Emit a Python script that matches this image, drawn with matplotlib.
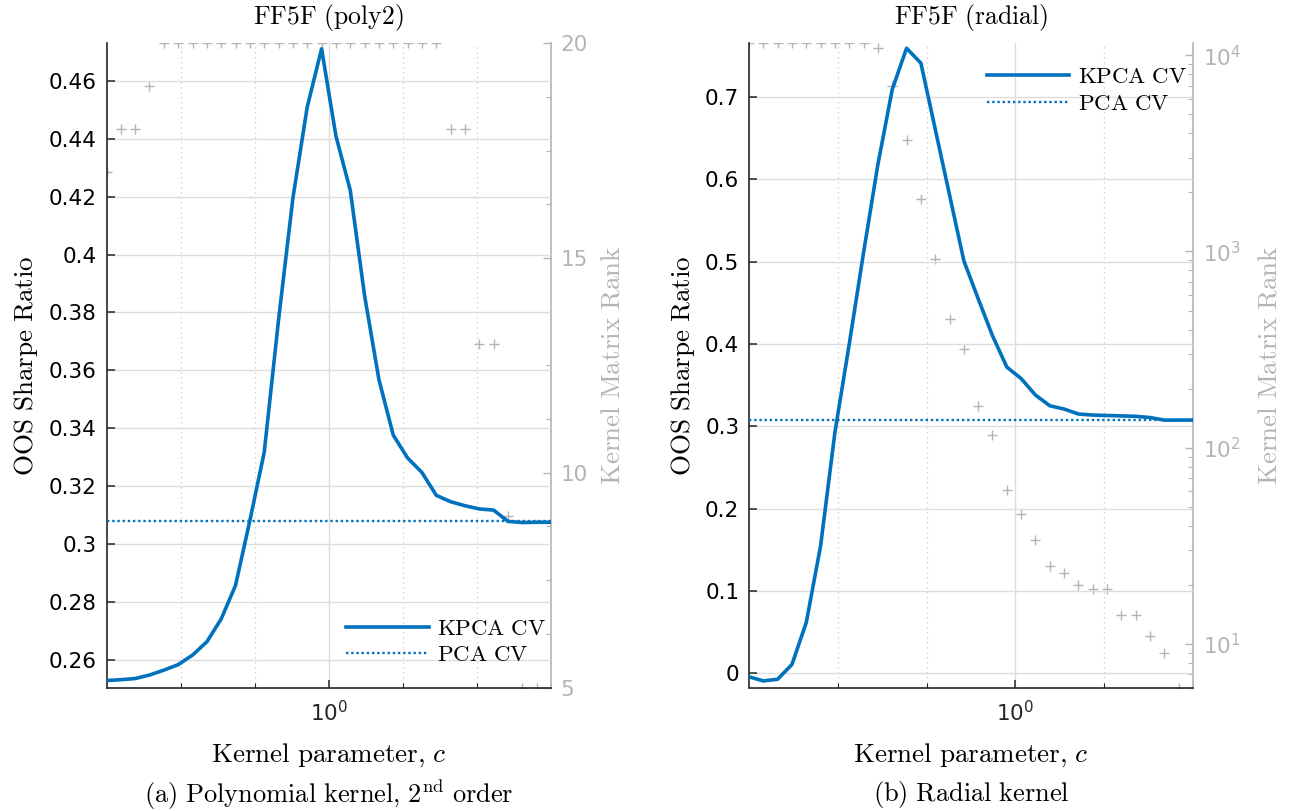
import numpy as np
import matplotlib
matplotlib.use("Agg")
import matplotlib.pyplot as plt
from matplotlib.ticker import FixedLocator, FuncFormatter, NullFormatter, LogLocator, AutoMinorLocator

plt.rcParams['font.family'] = ['DejaVu Sans']
plt.rcParams['mathtext.fontset'] = 'cm'

# ---------------- data ----------------
c_poly = [0.1250, 0.1430, 0.1635, 0.1869, 0.2138, 0.2445, 0.2796, 0.3197,
          0.3656, 0.4181, 0.4781, 0.5468, 0.6253, 0.7150, 0.8177, 0.9351,
          1.0693, 1.2229, 1.3984, 1.5992, 1.8288, 2.0913, 2.3916, 2.7349,
          3.1276, 3.5766, 4.0901, 4.6773, 5.3488, 6.1167, 6.9948, 8.0000]
sr_kpca_poly = [0.2528, 0.2531, 0.2535, 0.2547, 0.2564, 0.2583, 0.2616, 0.2662,
                0.2741, 0.2857, 0.3081, 0.3317, 0.3775, 0.4195, 0.4510, 0.4711,
                0.4410, 0.4222, 0.3858, 0.3568, 0.3376, 0.3297, 0.3247, 0.3168,
                0.3146, 0.3132, 0.3121, 0.3117, 0.3078, 0.3074, 0.3075, 0.3075]
sr_pca_poly = 0.3078
rank_poly = [17, 18, 18, 19, 20, 20, 20, 20, 20, 20, 20, 20, 20, 20, 20, 20,
             20, 20, 20, 20, 20, 20, 20, 20, 18, 18, 13, 13, 9, 5, 5, 5]

c_rbf = [0.1250, 0.1398, 0.1563, 0.1748, 0.1955, 0.2186, 0.2445, 0.2734,
         0.3057, 0.3419, 0.3824, 0.4276, 0.4782, 0.5347, 0.5980, 0.6687,
         0.7478, 0.8363, 0.9352, 1.0459, 1.1696, 1.3079, 1.4627, 1.6357,
         1.8292, 2.0456, 2.2875, 2.5581, 2.8607, 3.1991, 3.5776, 4.0000]
sr_kpca_rbf = [-0.004, -0.009, -0.007, 0.011, 0.062, 0.155, 0.293, 0.400,
               0.511, 0.618, 0.709, 0.759, 0.741, 0.661, 0.581, 0.501,
               0.455, 0.410, 0.372, 0.358, 0.338, 0.325, 0.321, 0.315,
               0.3137, 0.3132, 0.3127, 0.3122, 0.3107, 0.3076, 0.3076, 0.3076]
sr_pca_rbf = 0.308
rank_rbf = [11500, 11500, 11500, 11500, 11500, 11500, 11500, 11500, 11500,
            10860, 7000, 3700, 1850, 914, 452, 320, 163, 116, 61, 46, 34, 25,
            23, 20, 19, 19, 14, 14, 11, 9, 6, 6]

titles = ['FF5F\\ (poly2)', 'FF5F\\ (radial)']
captions = ['(a)\\ Polynomial\\ kernel{,}\\ 2^{nd}\\ order', '(b)\\ Radial\\ kernel']

# ---------------- style ----------------
BLUE = '#0072BD'
GRAY = '#b4b4b4'
GRIDC = '#dddddd'
W, H = 1290, 811
fig = plt.figure(figsize=(W / 100, H / 100), dpi=100)

def frac(x0, x1, ytop, ybot):
    return [x0 / W, (H - ybot) / H, (x1 - x0) / W, (ybot - ytop) / H]

panels = [
    dict(rect=frac(106.5, 551, 43.3, 687.5), c=c_poly, sr=sr_kpca_poly, pca=sr_pca_poly,
         rank=rank_poly, xlim=(0.125, 8.0), ylim=(0.2504, 0.473), minor=[0.25, 0.5, 2, 4],
         yticks=[0.26, 0.28, 0.30, 0.32, 0.34, 0.36, 0.38, 0.40, 0.42, 0.44, 0.46],
         rlog=False, rlim=(5, 20), leg=(0.539, 0.110), title=titles[0], cap=captions[0]),
    dict(rect=frac(749, 1193, 43.3, 687.5), c=c_rbf, sr=sr_kpca_rbf, pca=sr_pca_rbf,
         rank=rank_rbf, xlim=(0.125, 4.0), ylim=(-0.017, 0.765), minor=[0.25, 0.5, 2],
         yticks=[0, 0.1, 0.2, 0.3, 0.4, 0.5, 0.6, 0.7],
         rlog=True, rlim=(6, 11500), leg=(0.536, 0.966), title=titles[1], cap=captions[1]),
]

TICKFS = 15.5
LABFS = 19.5
TITFS = 18.5
LEGFS = 16.5
CAPFS = 19

for p in panels:
    ax = fig.add_axes(p['rect'])
    axr = ax.twinx()
    ax.set_zorder(axr.get_zorder() + 1)
    ax.patch.set_visible(False)

    # rank markers (right axis)
    axr.plot(p['c'], p['rank'], linestyle='none', marker='+', color=GRAY,
             markersize=7, markeredgewidth=1.0)
    if p['rlog']:
        axr.set_yscale('log')
        axr.yaxis.set_major_locator(LogLocator(base=10, numticks=10))
        axr.yaxis.set_minor_locator(LogLocator(base=10, subs=np.arange(2, 10), numticks=20))
        axr.yaxis.set_minor_formatter(NullFormatter())
    else:
        axr.yaxis.set_major_locator(FixedLocator([5, 10, 15, 20]))
        axr.yaxis.set_minor_locator(AutoMinorLocator(4))
    axr.set_ylim(*p['rlim'])
    axr.set_ylabel('$\\mathrm{Kernel\\ Matrix\\ Rank}$', color=GRAY, fontsize=LABFS,
                   labelpad=11 if p['rlog'] else 8)

    # Sharpe lines
    ax.plot(p['c'], p['sr'], color=BLUE, lw=2.6, label='$\\mathrm{KPCA\\ CV}$', zorder=3)
    ax.axhline(p['pca'], color=BLUE, lw=1.7, ls=(0, (1, 1.2)), label='$\\mathrm{PCA\\ CV}$', zorder=3)

    ax.set_xscale('log')
    ax.set_xlim(*p['xlim'])
    ax.set_ylim(*p['ylim'])
    ax.xaxis.set_major_locator(FixedLocator([1.0]))
    ax.xaxis.set_major_formatter(FuncFormatter(lambda v, pos: '$\\mathregular{10^{0}}$'))
    ax.xaxis.set_minor_locator(FixedLocator(p['minor']))
    ax.xaxis.set_minor_formatter(NullFormatter())
    ax.yaxis.set_major_locator(FixedLocator(p['yticks']))
    ax.yaxis.set_major_formatter(FuncFormatter(lambda v, pos: '%g' % round(v, 2)))

    ax.grid(True, which='major', axis='both', color=GRIDC, lw=1.0, zorder=0)
    ax.grid(True, which='minor', axis='x', color='#c8c8c8', lw=0.9, ls=(0, (1, 3)), zorder=0)
    ax.set_axisbelow(True)

    for a in (ax, axr):
        a.spines['top'].set_visible(False)
    ax.spines['right'].set_visible(False)
    axr.spines['left'].set_visible(False)
    axr.spines['bottom'].set_visible(False)
    ax.spines['left'].set_color('#262626')
    ax.spines['bottom'].set_color('#262626')
    ax.spines['left'].set_linewidth(1.2)
    ax.spines['bottom'].set_linewidth(1.2)
    axr.spines['right'].set_color(GRAY)
    axr.spines['right'].set_linewidth(1.2)

    ax.tick_params(axis='both', which='major', direction='in', length=6, width=1.1,
                   colors='#262626', labelsize=TICKFS, top=False, right=False)
    ax.tick_params(axis='x', which='major', pad=9)
    ax.tick_params(axis='y', which='major', pad=7, labelcolor='black')
    ax.tick_params(axis='x', which='minor', direction='in', length=3.5, width=0.8, colors='#262626')
    ax.tick_params(axis='y', which='minor', left=False)
    axr.tick_params(axis='y', which='major', direction='in', length=6, width=1.0,
                    colors=GRAY, labelsize=TICKFS, pad=7)
    axr.tick_params(axis='y', which='minor', direction='in', length=3.5, width=0.8, colors=GRAY)

    ax.set_title('$\\mathrm{' + p['title'] + '}$', fontsize=TITFS, pad=14)
    ax.set_ylabel('$\\mathrm{OOS\\ Sharpe\\ Ratio}$', fontsize=LABFS, labelpad=6)
    ax.set_xlabel('$\\mathrm{Kernel\\ parameter{,}\\ }c$', fontsize=LABFS, labelpad=12)

    leg = ax.legend(loc='upper left', bbox_to_anchor=p['leg'], frameon=False,
                    fontsize=LEGFS, handlelength=3.6, handletextpad=0.35,
                    borderpad=0, borderaxespad=0, labelspacing=0.15)

    # caption below panel
    x0, y0, w, h = p['rect']
    fig.text(x0 + w / 2, (H - 795) / H, '$\\mathrm{' + p['cap'] + '}$', ha='center',
             va='center', fontsize=CAPFS)

fig.savefig('out.png', dpi=100)
